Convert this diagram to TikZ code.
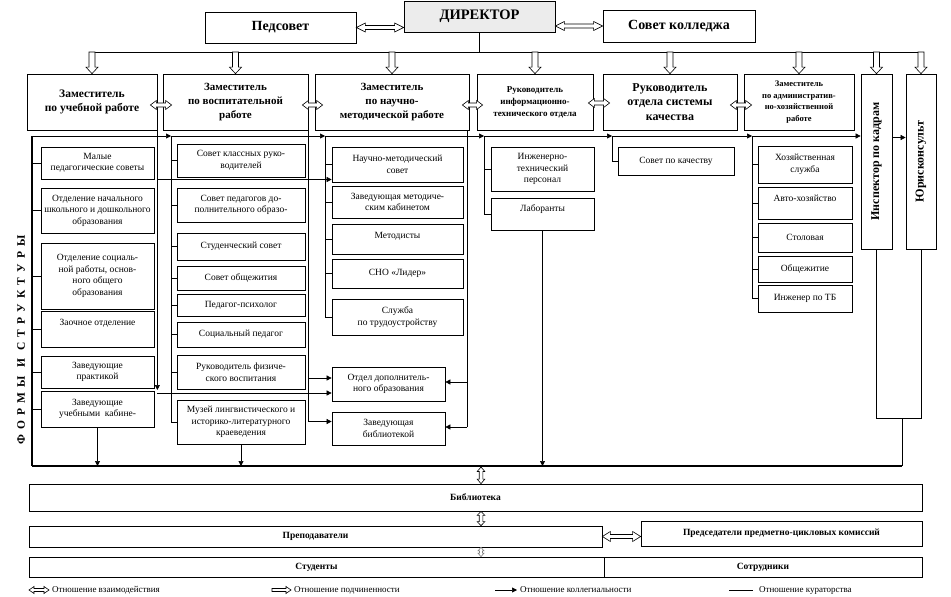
\documentclass[tikz,border=0pt]{standalone}
\usepackage{fontspec}
\setmainfont{Liberation Serif}
\usetikzlibrary{arrows.meta,calc}
\def\holS{2.5pt}\def\holW{5.5pt}\def\holL{7pt}
\begin{document}
\begin{tikzpicture}[x=1pt,y=-1pt,
  nbox/.style={draw, line width=0.7pt, align=center, inner sep=1pt, font=\fontsize{9.5}{11.5}\selectfont},
  zbox/.style={nbox, font=\bfseries\fontsize{11.5}{14.5}\selectfont},
  topbox/.style={nbox, font=\bfseries\fontsize{14}{16}\selectfont},
  botbox/.style={nbox, font=\bfseries\fontsize{9.5}{11}\selectfont},
  holsize/.code args={#1/#2/#3}{\def\holS{#1}\def\holW{#2}\def\holL{#3}},
  hol/.style={fill=white, line width=0.6pt, to path={
    let \p1=(\tikztostart), \p2=(\tikztotarget), \p3=($(\p2)!\holL!(\p1)$) in
    ($(\p1)!\holS!90:(\p2)$) -- ($(\p3)!\holS!90:(\p2)$) -- ($(\p3)!\holW!90:(\p2)$) -- (\p2)
    -- ($(\p3)!\holW!-90:(\p2)$) -- ($(\p3)!\holS!-90:(\p2)$) -- ($(\p1)!\holS!-90:(\p2)$) -- cycle}},
  hol2/.style={fill=white, line width=0.6pt, to path={
    let \p1=(\tikztostart), \p2=(\tikztotarget), \p3=($(\p1)!\holL!(\p2)$), \p4=($(\p2)!\holL!(\p1)$) in
    (\p1) -- ($(\p3)!\holW!90:(\p2)$) -- ($(\p3)!\holS!90:(\p2)$) -- ($(\p4)!\holS!90:(\p2)$)
    -- ($(\p4)!\holW!90:(\p2)$) -- (\p2) -- ($(\p4)!\holW!-90:(\p2)$) -- ($(\p4)!\holS!-90:(\p2)$)
    -- ($(\p3)!\holS!-90:(\p2)$) -- ($(\p3)!\holW!-90:(\p2)$) -- cycle}},
  coll/.style={line width=0.6pt, -{Triangle[length=5pt,width=5pt]}},
  cur/.style={line width=0.6pt},
  heavy/.style={line width=1.8pt},
  legtext/.style={anchor=west, inner sep=0pt, font=\fontsize{9}{10}\selectfont},
]
\useasboundingbox (0,0) rectangle (951,597);

% ---------- top row
\node[topbox, minimum width=151pt, minimum height=31pt] (ped) at (280.5,27.5) {Педсовет};
\node[topbox, fill=gray!15, minimum width=151pt, minimum height=31pt, font=\bfseries\fontsize{14.5}{16}\selectfont] (dir) at (479.5,16.5) {ДИРЕКТОР};
\node[topbox, minimum width=152pt, minimum height=32pt] (sov) at (679,26) {Совет колледжа};
\draw[hol2, holsize=2pt/4.5pt/9pt] (ped.east) to (ped.east -| dir.west);
\draw[hol2, holsize=2pt/4.5pt/9pt] (sov.west -| dir.east) to (sov.west);

\coordinate (busL) at (90,52);
\coordinate (busR) at (922,52);
\draw[cur] (dir.south) -- (dir.south |- busL);
\draw[cur] (busL) -- (busR);

% ---------- level 2
\node[zbox, minimum width=130pt, minimum height=56pt] (z1) at (92,102) {Заместитель\\по учебной работе};
\node[zbox, minimum width=145pt, minimum height=56pt, font=\bfseries\fontsize{11}{14}\selectfont] (z2) at (235.5,102) {Заместитель\\по воспитательной\\работе};
\node[zbox, minimum width=154pt, minimum height=56pt, font=\bfseries\fontsize{11}{14}\selectfont] (z3) at (392,102) {Заместитель\\по научно-\\методической работе};
\node[zbox, minimum width=116pt, minimum height=56pt, font=\bfseries\fontsize{9}{12}\selectfont] (z4) at (535,102) {Руководитель\\информационно-\\технического отдела};
\node[zbox, minimum width=134pt, minimum height=56pt, font=\bfseries\fontsize{12}{14.5}\selectfont] (z5) at (670,102) {Руководитель\\отдела системы\\качества};
\node[zbox, minimum width=110pt, minimum height=56pt, font=\bfseries\fontsize{8.5}{11.5}\selectfont] (z6) at (799,102) {Заместитель\\по административ-\\но-хозяйственной\\работе};
\node[nbox, minimum width=31pt, minimum height=175pt] (insp) at (876.5,161.5) {};
\node[nbox, minimum width=30pt, minimum height=175pt] (jur) at (921,161.5) {};
\node[rotate=90, inner sep=0pt, font=\bfseries\fontsize{12}{14}\selectfont] (inspt) at (insp.center) {Инспектор по кадрам};
\node[rotate=90, inner sep=0pt, font=\bfseries\fontsize{12}{14}\selectfont] (jurt) at (jur.center) {Юрисконсульт};

\draw[hol, holsize=3pt/6pt/6.5pt] (z1.north |- busL) to (z1.north);
\draw[hol, holsize=3pt/6pt/6.5pt] (z2.north |- busL) to (z2.north);
\draw[hol, holsize=3pt/6pt/6.5pt] (z3.north |- busL) to (z3.north);
\draw[hol, holsize=3pt/6pt/6.5pt] (z4.north |- busL) to (z4.north);
\draw[hol, holsize=3pt/6pt/6.5pt] (z5.north |- busL) to (z5.north);
\draw[hol, holsize=3pt/6pt/6.5pt] (z6.north |- busL) to (z6.north);
\draw[hol, holsize=3pt/6pt/6.5pt] (insp.north |- busL) to (insp.north);
\draw[hol, holsize=3pt/6pt/6.5pt] (jur.north |- busL) to (jur.north);

\draw[hol2, holsize=2pt/4.5pt/6pt] ([xshift=-7pt,yshift=-3pt]z1.east) to ([xshift=9pt,yshift=-3pt]z2.west);
\draw[hol2, holsize=2pt/4.5pt/6pt] ([xshift=-6pt,yshift=-3pt]z2.east) to ([xshift=8pt,yshift=-3pt]z3.west);
\draw[hol2, holsize=2pt/4.5pt/6pt] ([xshift=-7pt,yshift=-3pt]z3.east) to ([xshift=6pt,yshift=-3pt]z4.west);
\draw[hol2, holsize=2pt/4.5pt/6pt] ([xshift=-5pt,yshift=-1pt]z4.east) to ([xshift=7pt,yshift=-1pt]z5.west);
\draw[hol2, holsize=2pt/4.5pt/6pt] ([xshift=-7pt,yshift=-3pt]z5.east) to ([xshift=8pt,yshift=-3pt]z6.west);

% ---------- colleagiality bus
\coordinate (c1) at (32,136);
\coordinate (c2) at (171,136);
\coordinate (c3) at (325,136);
\coordinate (c4) at (484,136);
\coordinate (c5) at (612,136);
\coordinate (c6) at (752,136);
\coordinate (c7) at (0,137.5);
\draw[coll] (c1) -- (c2);
\draw[coll] (c2) -- (c3);
\draw[coll] (c3) -- (c4);
\draw[coll] (c4) -- (c5);
\draw[coll] (c5) -- (c6);
\draw[coll] (c6) -- (c6 -| insp.west);
\draw[coll] (insp.east |- c7) -- (jur.west |- c7);

% ---------- column 1
\node[nbox, minimum width=113pt, minimum height=32pt] (a1) at (97.5,163) {Малые\\педагогические советы};
\node[nbox, minimum width=113pt, minimum height=45pt] (a2) at (97.5,210.5) {Отделение начального\\школьного и дошкольного\\образования};
\node[nbox, minimum width=113pt, minimum height=66pt] (a3) at (97.5,276) {Отделение социаль-\\ной работы, основ-\\ного общего\\образования};
\node[nbox, minimum width=113pt, minimum height=36pt] (a4) at (97.5,329) {\raisebox{6pt}[\height][\depth]{Заочное отделение}};
\node[nbox, minimum width=113pt, minimum height=32pt] (a5) at (97.5,372) {Заведующие\\практикой};
\node[nbox, minimum width=113pt, minimum height=36pt] (a6) at (97.5,409) {Заведующие\\учебными \ кабине-};

\coordinate (bl) at (32,466);
\coordinate (rb) at (902,418);
\draw[heavy] (c1) -- (bl);
\draw[heavy] (bl) -- (rb |- bl);
\foreach \zz in {a1,a2,a3,a4,a5,a6}
  \draw[cur] (c1 |- \zz.west) -- (\zz.west);
\draw[coll] (a6.south) -- (a6.south |- bl);

% ---------- column 2
\node[nbox, minimum width=128pt, minimum height=33pt] (b1) at (241,160.5) {Совет классных руко-\\водителей};
\node[nbox, minimum width=128pt, minimum height=34pt] (b2) at (241,205) {Совет педагогов до-\\полнительного образо-};
\node[nbox, minimum width=128pt, minimum height=27pt] (b3) at (241,246.5) {Студенческий совет};
\node[nbox, minimum width=128pt, minimum height=24pt] (b4) at (241,278) {Совет общежития};
\node[nbox, minimum width=128pt, minimum height=22pt] (b5) at (241,305) {Педагог-психолог};
\node[nbox, minimum width=128pt, minimum height=25pt] (b6) at (241,334.5) {Социальный педагог};
\node[nbox, minimum width=128pt, minimum height=34pt] (b7) at (241,372) {Руководитель физиче-\\ского воспитания};
\node[nbox, minimum width=128pt, minimum height=44pt] (b8) at (241,422) {Музей лингвистического и\\историко-литературного\\краеведения};
\draw[cur] (c2) -- (c2 |- b8.west);
\foreach \zz in {b1,b2,b3,b4,b5,b6,b7,b8}
  \draw[cur] (c2 |- \zz.west) -- (\zz.west);
\draw[coll] (b8.south) -- (b8.south |- bl);

% ---------- column 3
\node[nbox, minimum width=131pt, minimum height=35pt] (n1) at (397.5,164.5) {Научно-методический\\совет};
\node[nbox, minimum width=131pt, minimum height=32pt] (n2) at (397.5,202) {Заведующая методиче-\\ским кабинетом};
\node[nbox, minimum width=131pt, minimum height=30pt] (n3) at (397.5,239) {\raisebox{3pt}[\height][\depth]{Методисты}};
\node[nbox, minimum width=131pt, minimum height=29pt] (n4) at (397.5,273.5) {СНО «Лидер»};
\node[nbox, minimum width=131pt, minimum height=36pt] (n5) at (397.5,317) {Служба\\по трудоустройству};
\node[nbox, minimum width=113pt, minimum height=34pt] (otd) at (388.5,384) {Отдел дополнитель-\\ного образования};
\node[nbox, minimum width=113pt, minimum height=33pt] (bib) at (388.5,428.5) {Заведующая\\библиотекой};
\draw[cur] (c3) -- (c3 |- n5.west);
\foreach \zz in {n1,n2,n3,n4,n5}
  \draw[cur] (c3 |- \zz.west) -- (\zz.west);

% cross connectors
\coordinate (q1) at ([yshift=-15pt]n1.west);
\coordinate (o1) at ([yshift=6pt]otd.west);
\coordinate (o2) at ([yshift=-9pt]otd.west);
\coordinate (o3) at ([yshift=7pt]bib.west);
\coordinate (p1) at ([yshift=2pt]otd.east);
\coordinate (p2) at ([yshift=1.5pt]bib.east);
\draw[coll, shorten >=3pt] (z1.south east) -- (z1.south east |- o2);
\draw[coll] (q1 -| z1.south east) -- (q1);
\draw[coll] (o2 -| z1.south east) -- (o2);
\draw[cur] (z2.south east) -- (z2.south east |- o3);
\draw[coll] (o1 -| z2.south east) -- (o1);
\draw[coll] (o3 -| z2.south east) -- (o3);
\draw[cur] ([xshift=-2pt]z3.south east) -- ([xshift=-2pt]z3.south east |- p2);
\draw[coll] ([xshift=-2pt]p1 -| z3.south east) -- (p1);
\draw[coll] ([xshift=-2pt]p2 -| z3.south east) -- (p2);

% ---------- column 4
\node[nbox, minimum width=103pt, minimum height=44pt] (d1) at (542.5,169) {Инженерно-\\технический\\персонал};
\node[nbox, minimum width=103pt, minimum height=32pt] (d2) at (542.5,214) {\raisebox{5pt}[\height][\depth]{Лаборанты}};
\draw[cur] (c4) -- (c4 |- d2.west);
\foreach \zz in {d1,d2}
  \draw[cur] (c4 |- \zz.west) -- (\zz.west);
\draw[coll] (d2.south) -- (d2.south |- bl);

% ---------- column 5
\node[nbox, minimum width=116pt, minimum height=28pt] (e1) at (676,161) {Совет по качеству};
\draw[cur] (c5) -- (c5 |- e1.west) -- (e1.west);

% ---------- column 6
\node[nbox, minimum width=94pt, minimum height=37pt] (f1) at (805,164.5) {Хозяйственная\\служба};
\node[nbox, minimum width=94pt, minimum height=32pt] (f2) at (805,203) {\raisebox{5pt}[\height][\depth]{Авто-хозяйство}};
\node[nbox, minimum width=94pt, minimum height=29pt] (f3) at (805,237.5) {Столовая};
\node[nbox, minimum width=94pt, minimum height=26pt] (f4) at (805,269) {Общежитие};
\node[nbox, minimum width=94pt, minimum height=27pt] (f5) at (805,298.5) {Инженер по ТБ};
\draw[cur] (c6) -- (c6 |- f5.west);
\foreach \zz in {f1,f2,f3,f4,f5}
  \draw[cur] (c6 |- \zz.west) -- (\zz.west);

% ---------- right connectors
\draw[cur] (insp.south) -- (insp.south |- rb) -- (jur.south |- rb) -- (jur.south);
\draw[cur] (rb) -- (rb |- bl);

% ---------- side label
\node[rotate=90, inner sep=0pt, font=\bfseries\fontsize{11.5}{12}\selectfont\addfontfeature{LetterSpace=45}] (forms) at (21,340) {ФОРМЫ И СТРУКТУРЫ};

% ---------- bottom
\node[botbox, minimum width=893pt, minimum height=27pt] (lib) at (475.5,497.5) {Библиотека};
\node[botbox, minimum width=573pt, minimum height=21pt] (prep) at (315.5,536.5) {Преподаватели};
\node[botbox, minimum width=281pt, minimum height=25pt] (pred) at (781.5,533.5) {Председатели предметно-цикловых комиссий};
\node[botbox, minimum width=575pt, minimum height=20pt] (stud) at (316.5,567) {Студенты};
\node[botbox, minimum width=318pt, minimum height=20pt] (sotr) at (763,567) {Сотрудники};
\coordinate (ax) at (481,467);
\draw[hol2, holsize=1.8pt/3.8pt/4.5pt] (ax) to (ax |- lib.north);
\draw[hol2, holsize=1.8pt/3.8pt/4pt] (lib.south -| ax) to (prep.north -| ax);
\draw[hol2, holsize=1.5pt/3pt/3.5pt, draw=gray] (prep.south -| ax) to (stud.north -| ax);
\draw[hol2, holsize=2pt/5pt/8pt] (prep.east) to (prep.east -| pred.west);

% ---------- legend
\coordinate (la1) at (29,590);  \coordinate (la2) at (49,590);
\coordinate (lb1) at (272,590); \coordinate (lb2) at (291,590);
\coordinate (lc1) at (495,590); \coordinate (lc2) at (517,590);
\coordinate (ld1) at (729,590); \coordinate (ld2) at (753,590);
\draw[hol2, holsize=1.5pt/3.5pt/5pt] (la1) to (la2);
\draw[hol, holsize=1.5pt/3.5pt/5pt] (lb1) to (lb2);
\draw[coll] (lc1) -- (lc2);
\draw[cur] (ld1) -- (ld2);
\node[legtext] (lt1) at (52,590) {Отношение взаимодействия};
\node[legtext] (lt2) at (294,590) {Отношение подчиненности};
\node[legtext] (lt3) at (520,590) {Отношение коллегиальности};
\node[legtext] (lt4) at (759,590) {Отношение кураторства};
\end{tikzpicture}
\end{document}
